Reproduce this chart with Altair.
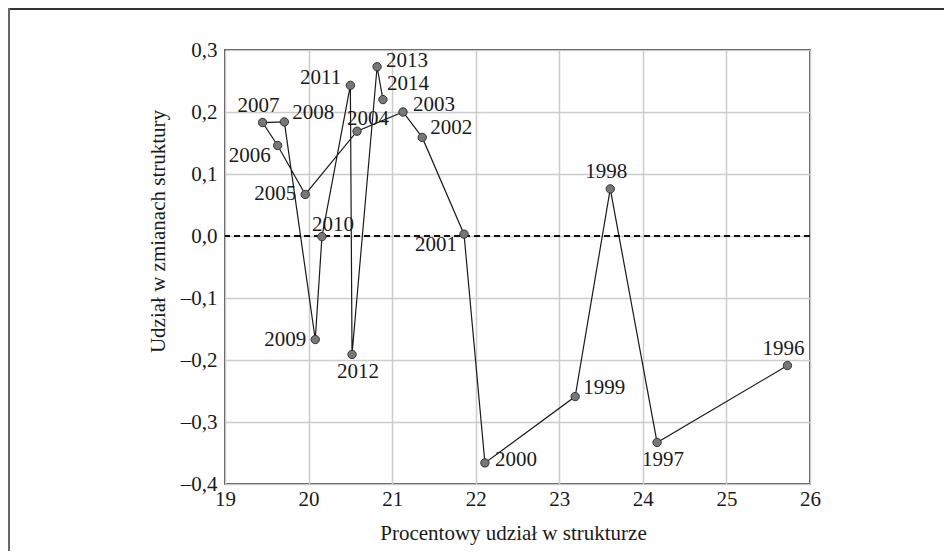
import altair as alt
import pandas as pd

# ---- data ----
years = [1996, 1997, 1998, 1999, 2000, 2001, 2002, 2003, 2004, 2005,
         2006, 2007, 2008, 2009, 2010, 2011, 2012, 2013, 2014]
share = [25.73, 24.17, 23.61, 23.19, 22.11, 21.86, 21.36, 21.13, 20.58, 19.96,
         19.63, 19.45, 19.71, 20.08, 20.16, 20.50, 20.52, 20.82, 20.89]
contrib = [-0.209, -0.333, 0.076, -0.259, -0.366, 0.003, 0.159, 0.200, 0.169, 0.067,
           0.146, 0.183, 0.184, -0.167, -0.001, 0.243, -0.191, 0.273, 0.220]
# side of the point on which each year label sits (compass direction)
label_side = ["N", "S", "N", "NE", "E", "SW", "NE", "NE3", "N2", "W",
              "SW", "N", "NE", "W", "N2", "NW", "S", "E2", "NE2"]

x_ticks = [19, 20, 21, 22, 23, 24, 25, 26]
y_ticks = [-0.4, -0.3, -0.2, -0.1, 0.0, 0.1, 0.2, 0.3]

df = pd.DataFrame({"year": years, "x": share, "y": contrib, "side": label_side})
df["label"] = df["year"].astype(str)

FONT = "Liberation Serif"
FS = 21
W, H = 585, 434

xs = alt.Scale(domain=[19, 26], nice=False, zero=False)
ys = alt.Scale(domain=[-0.4, 0.3], nice=False, zero=False)

ylabel = ("(datum.value < -0.00001 ? '\u2013' : '') + "
          "replace(format(abs(datum.value), '.1f'), '.', ',')")

base = alt.Chart(df)

line = base.mark_line(color="#1a1a1a", strokeWidth=1.2).encode(
    x=alt.X("x:Q", scale=xs,
            axis=alt.Axis(values=x_ticks, format="d",
                          title="Procentowy udział w strukturze",
                          ticks=False, labelPadding=4, domain=False,
                          grid=True, gridColor="#cccccc", gridWidth=1.5,
                          titleX=288, titleY=49, titleBaseline="middle",
                          titleAlign="center", labelFlush=False)),
    y=alt.Y("y:Q", scale=ys,
            axis=alt.Axis(values=y_ticks, title="Udział w zmianach struktury",
                          ticks=False, labelPadding=8, domain=False,
                          grid=True, gridColor="#cccccc", gridWidth=1.5,
                          labelExpr=ylabel, titleX=-67, titleY=181,
                          titleAngle=-90, titleBaseline="middle",
                          titleAlign="center", labelFlush=False)),
    order="year:Q",
)

zero = alt.Chart(pd.DataFrame({"y": [0.0]})).mark_rule(
    color="#111", strokeWidth=2, strokeDash=[6, 4]
).encode(y=alt.Y("y:Q", scale=ys))

points = base.mark_point(filled=True, fill="#777777", stroke="#333333",
                         strokeWidth=1, opacity=1, size=70).encode(
    x=alt.X("x:Q", scale=xs), y=alt.Y("y:Q", scale=ys))

side_style = {
    "N": ("center", -4, -17),
    "N2": ("center", 11, -12),
    "S": ("center", 6, 18),
    "E": ("left", 10, -3),
    "E2": ("left", 9, -6),
    "W": ("right", -9, 0),
    "NE": ("left", 8, -9),
    "NE2": ("left", 4, -16),
    "NE3": ("left", 10, -7),
    "NW": ("right", -9, -7),
    "SW": ("right", -7, 11),
}
texts = []
for side, (al, dx, dy) in side_style.items():
    texts.append(
        base.transform_filter(alt.datum.side == side).mark_text(
            font=FONT, fontSize=FS, color="#1a1a1a", align=al, dx=dx, dy=dy,
            baseline="middle"
        ).encode(x=alt.X("x:Q", scale=xs), y=alt.Y("y:Q", scale=ys), text="label:N")
    )

one = pd.DataFrame({"a": [0]})
top_line = alt.Chart(one).mark_rule(color="#333333", strokeWidth=2).encode(
    x=alt.value(-217), x2=alt.value(W + 140), y=alt.value(-41))
left_line = alt.Chart(one).mark_rule(color="#666666", strokeWidth=2).encode(
    x=alt.value(-216), y=alt.value(-42), y2=alt.value(H + 70))

chart = alt.layer(line, zero, points, *texts, top_line, left_line).properties(
    width=W, height=H,
    autosize=alt.AutoSizeParams(type="none"),
    padding={"left": 217, "top": 42, "right": 134, "bottom": 67},
).configure_view(stroke="#111111", strokeWidth=1.5).configure_axis(
    labelFont=FONT, labelFontSize=FS, labelColor="#1a1a1a",
    titleFont=FONT, titleFontSize=FS, titleColor="#1a1a1a", titleFontWeight="normal",
)

chart.save("out.html", embed_options={"renderer": "svg", "actions": False})
